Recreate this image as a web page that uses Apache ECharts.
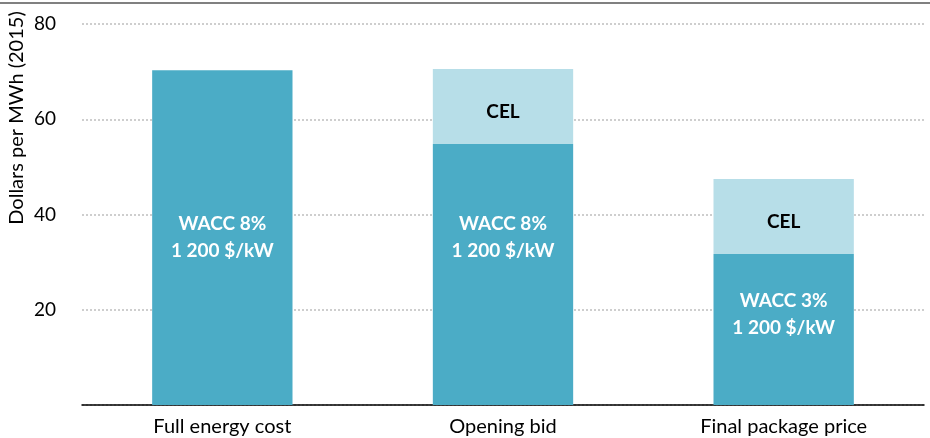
<!DOCTYPE html>
<html>
<head>
<meta charset="utf-8">
<script src="https://cdn.jsdelivr.net/npm/echarts@6/dist/echarts.min.js"></script>
<style>
  html, body { margin: 0; padding: 0; background: #fff; }
  #chart { width: 930px; height: 438px; }
</style>
</head>
<body>
<div id="chart"></div>
<script>
// categories and values
const categories = ["Full energy cost", "Opening bid", "Final package price"];
const baseValues = [70.3, 54.8, 31.7];
const celValues = [null, 15.75, 15.75];
const baseLabels = ["WACC 8%\n1 200 $/kW", "WACC 8%\n1 200 $/kW", "WACC 3%\n1 200 $/kW"];
const celLabels = ["", "CEL", "CEL"];
const yTicks = [0, 20, 40, 60, 80];

const FONT = "Lato";
// label offsets so text sits where the reference puts it
const baseOffsets = [[0, 0], [0, -37], [0, -15]];

const chart = echarts.init(document.getElementById("chart"));
chart.setOption({
  animation: false,
  textStyle: { fontFamily: FONT },
  grid: { left: 82, right: 6, top: 24, bottom: 33 },
  graphic: [
    {
      type: "line",
      shape: { x1: 0, y1: 3, x2: 930, y2: 3 },
      style: { stroke: "#808080", lineWidth: 2 }
    },
    {
      type: "text",
      x: 17, y: 118,
      rotation: Math.PI / 2,
      style: {
        text: "Dollars per MWh (2015)",
        font: "20px '" + FONT + "'",
        fill: "#000",
        align: "center",
        verticalAlign: "middle"
      }
    }
  ],
  xAxis: {
    type: "category",
    data: categories,
    axisLine: { lineStyle: { color: "#000", width: 1.5 } },
    axisTick: { show: false },
    axisLabel: { color: "#000", fontSize: 20, margin: 12 }
  },
  yAxis: {
    type: "value",
    min: yTicks[0],
    max: yTicks[yTicks.length - 1],
    interval: 20,
    axisLine: { show: false },
    axisTick: { show: false },
    axisLabel: {
      color: "#000", fontSize: 19, margin: 26,
      formatter: v => (v === 0 ? "" : v)
    },
    splitLine: { lineStyle: { color: "#bfbfbf", type: [2, 2], width: 1.5 } }
  },
  series: [
    {
      type: "bar",
      stack: "total",
      barWidth: "50%",
      itemStyle: { color: "#4BACC6" },
      data: baseValues.map((v, i) => ({
        value: v,
        label: {
          show: true,
          position: "inside",
          offset: baseOffsets[i],
          formatter: baseLabels[i],
          color: "#fff",
          fontWeight: "bold",
          fontSize: 19,
          lineHeight: 27
        }
      }))
    },
    {
      type: "bar",
      stack: "total",
      barWidth: "50%",
      itemStyle: { color: "#B7DEE8" },
      data: celValues.map((v, i) => ({
        value: v,
        label: {
          show: v !== null,
          position: "inside",
          offset: [0, 5],
          formatter: celLabels[i],
          color: "#000",
          fontWeight: "bold",
          fontSize: 19
        }
      }))
    }
  ]
});
</script>
</body>
</html>
